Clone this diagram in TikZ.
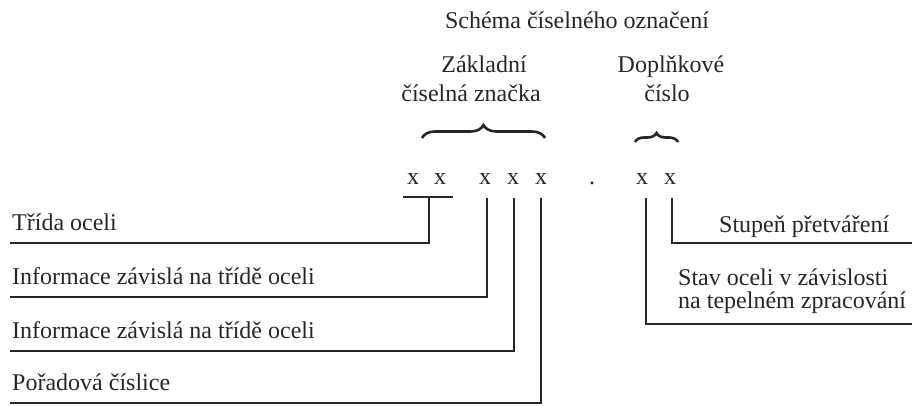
\documentclass[tikz,border=0pt]{standalone}
\usepackage{fontspec}
\setmainfont{Liberation Serif}
\usetikzlibrary{decorations.pathreplacing}
\definecolor{ink}{HTML}{262626}
\begin{document}
\begin{tikzpicture}[x=1pt,y=-1pt,
  txt/.style={inner sep=0pt, font=\fontsize{24}{24}\selectfont, text=ink},
  conn/.style={draw=ink, line width=1.7pt},
  brc/.style={draw=ink, line width=2.6pt, decorate, decoration={brace, amplitude=#1}}]
\useasboundingbox (0,0) rectangle (912,405);
% headings
\node[txt, anchor=base] (title) at (577,28) {Schéma číselného označení};
\node[txt, anchor=base] (zak1) at (484,72) {Základní};
\node[txt, anchor=base] (zak2) at (471,101) {číselná značka};
\node[txt, anchor=base] (dop1) at (671,72) {Doplňkové};
\node[txt, anchor=base] (dop2) at (667,101) {číslo};
% braces
\coordinate (b1a) at (422,138); \coordinate (b1b) at (545,138);
\draw[brc=13pt] (b1a) -- (b1b);
\coordinate (b2a) at (635,142); \coordinate (b2b) at (678,142);
\draw[brc=9pt] (b2a) -- (b2b);
% digits
\node[txt, anchor=base] (x1) at (413,184) {x};
\node[txt, anchor=base] (x2) at (440,184) {x};
\node[txt, anchor=base] (x3) at (485,184) {x};
\node[txt, anchor=base] (x4) at (513,184) {x};
\node[txt, anchor=base] (x5) at (541,184) {x};
\node[txt, anchor=base] (dot) at (592,184) {.};
\node[txt, anchor=base] (x6) at (642,184) {x};
\node[txt, anchor=base] (x7) at (670,184) {x};
% labels
\node[txt, anchor=base west] (l1) at (12,230) {Třída oceli};
\node[txt, anchor=base west] (l2) at (12,284) {Informace závislá na třídě oceli};
\node[txt, anchor=base west] (l3) at (12,338) {Informace závislá na třídě oceli};
\node[txt, anchor=base west] (l4) at (12,390) {Pořadová číslice};
\node[txt, anchor=base west] (r1) at (719,232) {Stupeň přetváření};
\node[txt, anchor=base west, align=left, font=\fontsize{24}{23}\selectfont]
  (r2) at (678,308) {Stav oceli v závislosti\\na tepelném zpracování};
% connector coordinates
\coordinate (bl) at (403,197); \coordinate (br) at (453,197);
\coordinate (v1) at (429,197); \coordinate (e1) at (10,243);
\coordinate (v2) at (487,198); \coordinate (e2) at (10,297);
\coordinate (v3) at (514,198); \coordinate (e3) at (10,351);
\coordinate (v4) at (541,198); \coordinate (e4) at (10,403);
\coordinate (v5) at (672,198); \coordinate (e5) at (912,243);
\coordinate (v6) at (646,198); \coordinate (e6) at (912,324);
% connectors
\draw[conn] (bl) -- (br);
\draw[conn] (v1) |- (e1);
\draw[conn] (v2) |- (e2);
\draw[conn] (v3) |- (e3);
\draw[conn] (v4) |- (e4);
\draw[conn] (v5) |- (e5);
\draw[conn] (v6) |- (e6);
\end{tikzpicture}
\end{document}
